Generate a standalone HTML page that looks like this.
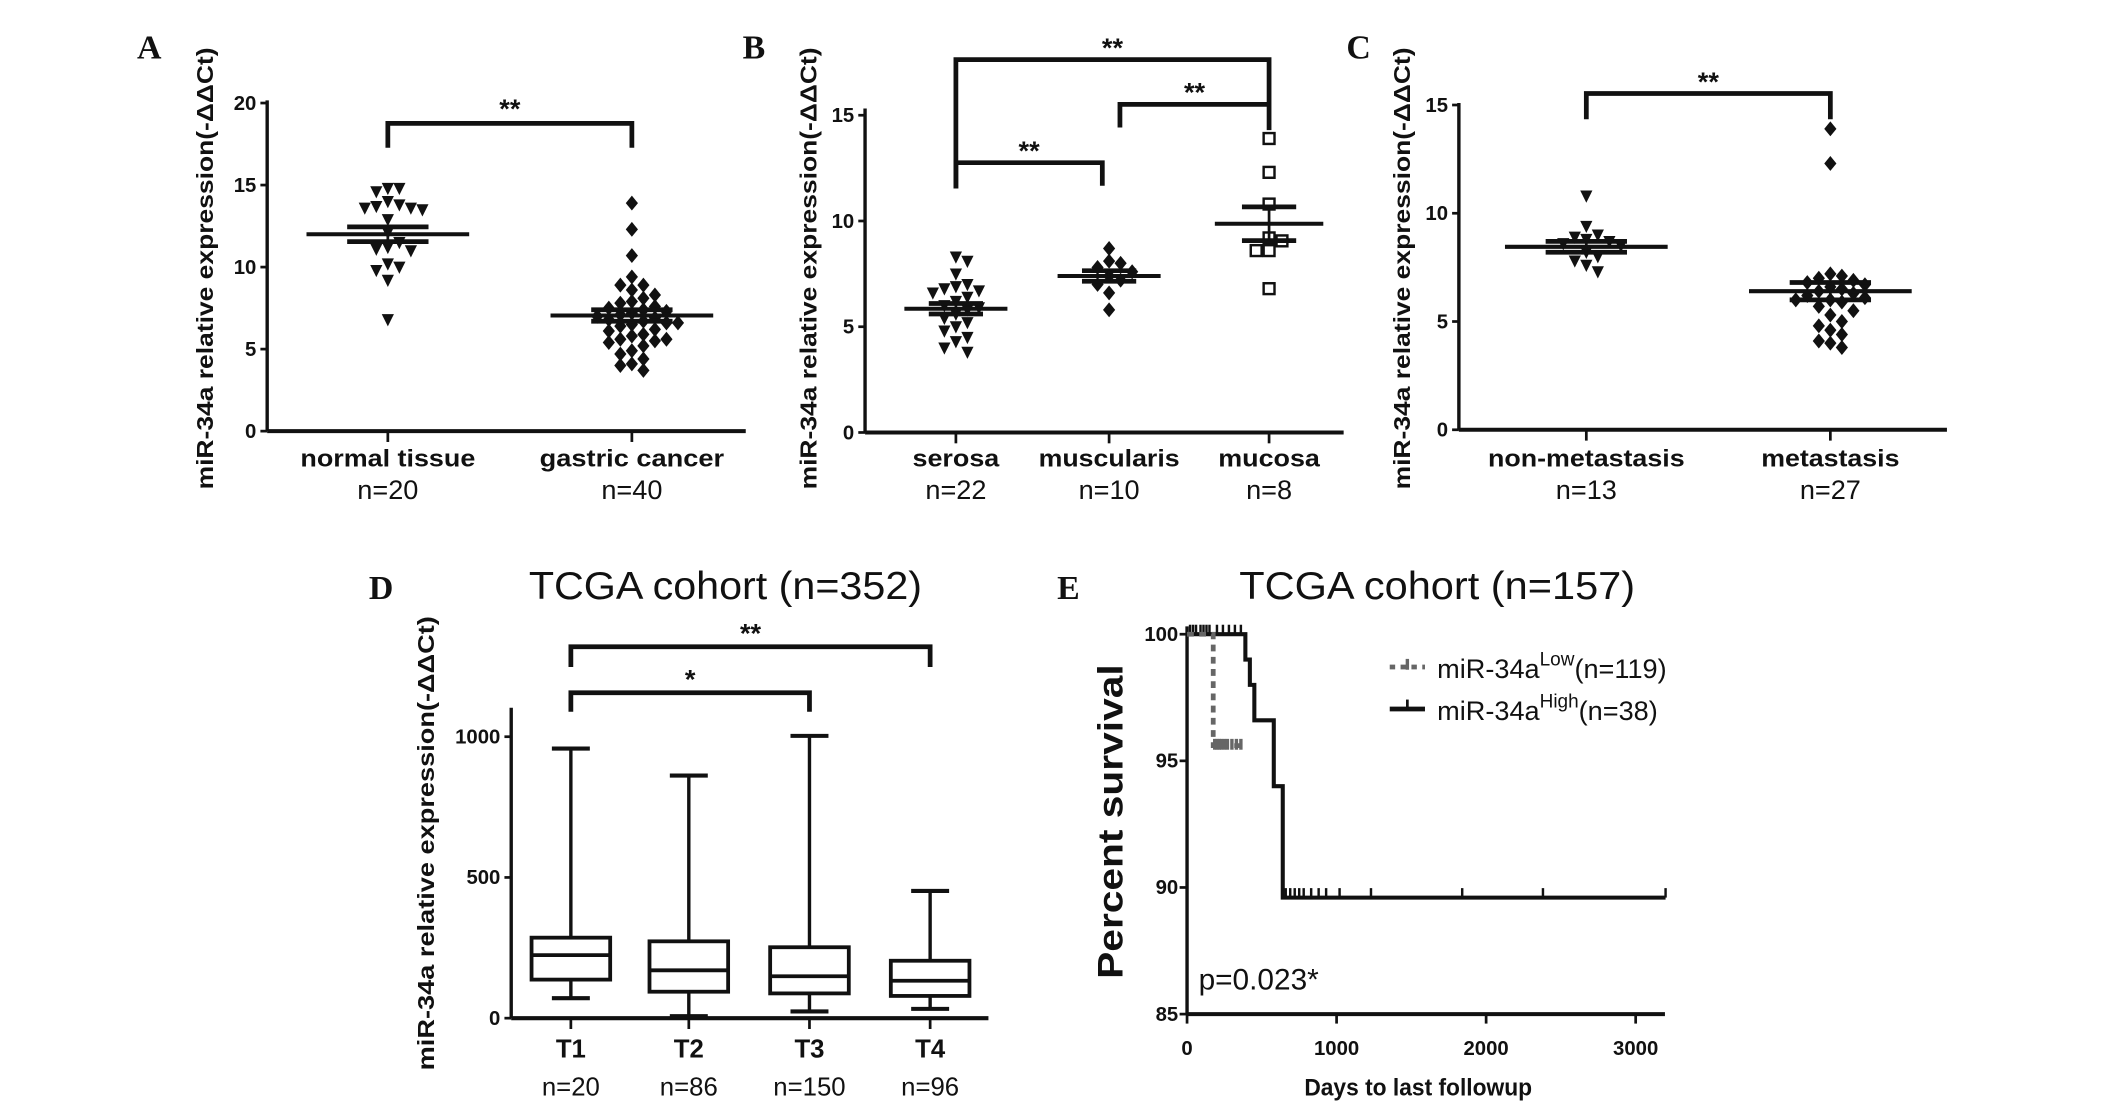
<!DOCTYPE html>
<html><head><meta charset="utf-8"><style>
html,body{margin:0;padding:0;background:#fff}
svg{display:block}
text{font-family:"Liberation Sans",sans-serif;fill:#111}
.b{font-weight:bold}
.let{font-family:"Liberation Serif",serif;font-weight:bold;font-size:25px}
</style></head><body>
<svg id="fig" xmlns="http://www.w3.org/2000/svg" width="2126" height="1109" viewBox="0 0 1568 818"></svg>
<script>
// ---- data ----
const aCats=["normal tissue","gastric cancer"];
const aN=["n=20","n=40"];
const aNormal=[14.8,14.8,14.6,13.7,13.6,13.5,13.6,13.8,14.0,12.9,12.1,11.5,11.2,11.0,11.1,10.2,10.0,9.8,9.2,6.8];
const aCancer=[13.9,12.3,10.7,9.4,8.9,8.9,8.6,8.3,8.1,7.9,7.8,7.6,7.5,7.4,7.3,7.2,7.1,7.0,6.9,6.8,6.7,6.6,6.6,6.5,6.4,6.2,6.1,5.9,5.8,5.6,5.6,5.5,5.4,5.2,4.9,4.7,4.4,4.1,4.0,3.7];
const aMean=[12.0,7.05], aSem=[0.45,0.35];
const aTicks=[0,5,10,15,20];
const bCats=["serosa","muscularis","mucosa"];
const bN=["n=22","n=10","n=8"];
const bSerosa=[8.3,8.1,7.5,7.0,6.9,6.8,6.7,6.6,6.4,6.2,6.0,5.9,5.8,5.6,5.4,5.2,5.0,4.8,4.5,4.3,4.0,3.8];
const bMusc=[8.7,8.1,8.0,7.8,7.6,7.4,7.2,7.0,6.6,5.8];
const bMucosa=[13.9,12.3,10.8,9.2,9.06,8.6,8.6,6.8];
const bMean=[5.85,7.4,9.87], bSem=[0.25,0.25,0.8];
const bTicks=[0,5,10,15];
const cCats=["non-metastasis","metastasis"];
const cN=["n=13","n=27"];
const cNon=[10.8,9.4,9.0,8.9,8.8,8.7,8.6,8.5,8.2,8.0,7.8,7.6,7.3];
const cMeta=[13.9,12.3,7.2,7.1,7.0,6.9,6.8,6.7,6.6,6.5,6.4,6.3,6.2,6.1,6.0,6.0,5.9,5.7,5.5,5.3,5.0,4.8,4.6,4.4,4.1,4.0,3.8];
const cMean=[8.45,6.4], cSem=[0.25,0.4];
const cTicks=[0,5,10,15];
const dCats=["T1","T2","T3","T4"];
const dN=["n=20","n=86","n=150","n=96"];
const dMin=[71,7,24,33], dQ1=[137,94,88,79], dMed=[224,170,149,133], dQ3=[286,273,252,204], dMax=[958,862,1003,452];
const dTicks=[0,500,1000];
const eLowDays=[0,175,175,370], eLowSurv=[100,100,95.6,95.6];
const eHighDays=[0,390,390,420,420,450,450,580,580,640,640,3200], eHighSurv=[100,100,99,99,98,98,96.6,96.6,94,94,89.6,89.6];
const eLowCens=[185,200,215,230,250,270,300,330,360];
const eHighCens=[20,40,60,90,110,130,150,200,240,280,320,360,660,690,720,750,780,830,880,930,1020,1230,1840,2380,3200];
const eXTicks=[0,1000,2000,3000], eYTicks=[85,90,95,100];

const svg=document.getElementById('fig');
const NS='http://www.w3.org/2000/svg';
function mk(tag,at,parent){const e=document.createElementNS(NS,tag);for(const k in at)e.setAttribute(k,at[k]);(parent||svg).appendChild(e);return e;}
function txt(s,x,y,size,cls,anchor,len,parent){const t=mk('text',{x:x,y:y,'font-size':size,'text-anchor':anchor||'middle'},parent);if(cls)t.setAttribute('class',cls);if(len){t.setAttribute('textLength',len);t.setAttribute('lengthAdjust','spacingAndGlyphs');}t.textContent=s;return t;}
function line(x1,y1,x2,y2,w,parent,extra){const l=mk('line',Object.assign({x1:x1,y1:y1,x2:x2,y2:y2,stroke:'#111','stroke-width':w||2.5},extra||{}),parent);return l;}

function axes(g,x0,x1,y0,yTop,ticks,ys,tickSize){
  line(x0,y0,x0,yTop,2.5,g);
  line(x0,y0,x1,y0,3,g);
  ticks.forEach(v=>{const y=ys(v);line(x0-5,y,x0,y,2,g);txt(String(v),x0-8,y+5,tickSize||15,'b','end',null,g);});
}
function bracket(g,xa,xb,y,la,lb,label,ly){
  const p=mk('path',{d:`M${xa},${la}V${y}H${xb}V${lb}`,fill:'none',stroke:'#111','stroke-width':3.5},g);
  
  const t=txt(label,(xa+xb)/2,ly,20,'b','middle',null,g);
  
}
function marker(g,type,x,y){
  let e;
  if(type==='tri') e=mk('path',{d:`M${x-4.5},${y-4}L${x+4.5},${y-4}L${x},${y+5}Z`,fill:'#111'},g);
  else if(type==='dia') e=mk('path',{d:`M${x},${y-5.5}L${x+4.5},${y}L${x},${y+5.5}L${x-4.5},${y}Z`,fill:'#111'},g);
  else e=mk('rect',{x:x-4,y:y-4,width:8,height:8,fill:'#fff',stroke:'#111','stroke-width':1.8},g);
  
}
function swarm(g,vals,cx,ys,type,dx){
  const placed=[];const sorted=vals.slice().sort((a,b)=>b-a);
  sorted.forEach(v=>{const y=ys(v);let k=0,x=cx;
    for(;;){const offs=k===0?[0]:[k*dx,-k*dx];let ok=null;
      for(const o of offs){if(placed.every(p=>Math.hypot(p[0]-(cx+o),p[1]-y)>=dx-0.5)){ok=o;break;}}
      if(ok!==null){x=cx+ok;break;}k++;}
    placed.push([x,y]);marker(g,type,x,y);});
}
function meanSem(g,cx,mean,sem,ys,mw,sw){
  line(cx-mw,ys(mean),cx+mw,ys(mean),3,g);
  line(cx-sw,ys(mean+sem),cx+sw,ys(mean+sem),3.5,g);
  line(cx-sw,ys(mean-sem),cx+sw,ys(mean-sem),3.5,g);
  line(cx,ys(mean-sem),cx,ys(mean+sem),2,g);
}
function ylabel(g,s,x,yc,size,len){const t=txt(s,0,0,size,'b','middle',len,g);t.setAttribute('transform',`translate(${x},${yc}) rotate(-90)`);}
function catLabels(g,cats,ns,xs,y1,y2,lens){cats.forEach((c,i)=>{const t=txt(c,xs[i],y1,18,'b','middle',lens?lens[i]:null,g);const n=txt(ns[i],xs[i],y2,20,null,'middle',null,g);});}
function grp(name){const g=mk('g',{});return g;}

// ---- Panel A ----
(function(){const g=grp('panel-a');
 const ys=v=>318-v*12.1; const xs=[286,466];
 txt('A',110,43,25,'let','middle',null,g);
 axes(g,197,550,318,74,aTicks,ys);
 xs.forEach(x=>line(x,318,x,326,2,g));
 ylabel(g,'miR-34a relative expression(-ΔΔCt)',157,198,17,326);
 swarm(g,aNormal,xs[0],ys,'tri',8.5); swarm(g,aCancer,xs[1],ys,'dia',8.5);
 meanSem(g,xs[0],aMean[0],aSem[0],ys,60,30); meanSem(g,xs[1],aMean[1],aSem[1],ys,60,30);
 bracket(g,xs[0],xs[1],91,109,109,'**',91-4);
 catLabels(g,aCats,aN,xs,344,368,[129,136]);
})();
// ---- Panel B ----
(function(){const g=grp('panel-b');
 const ys=v=>319-v*15.6; const xs=[705,818,936];
 txt('B',556,43,25,'let','middle',null,g);
 axes(g,638,991,319,80,bTicks,ys);
 xs.forEach(x=>line(x,319,x,327,2,g));
 ylabel(g,'miR-34a relative expression(-ΔΔCt)',602,198,17,326);
 swarm(g,bSerosa,xs[0],ys,'tri',8.5); swarm(g,bMusc,xs[1],ys,'dia',8.5); swarm(g,bMucosa,xs[2],ys,'sq',9.5);
 meanSem(g,xs[0],bMean[0],bSem[0],ys,38,20); meanSem(g,xs[1],bMean[1],bSem[1],ys,38,20); meanSem(g,xs[2],bMean[2],bSem[2],ys,40,20);
 bracket(g,xs[0],xs[2],44,139,96,'**',42);
 bracket(g,826,xs[2],77,94,77,'**',75);
 bracket(g,xs[0],813,120,139,137,'**',118);
 catLabels(g,bCats,bN,xs,344,368,[64,104,75]);
})();
// ---- Panel C ----
(function(){const g=grp('panel-c');
 const ys=v=>317-v*15.97; const xs=[1170,1350];
 txt('C',1002,43,25,'let','middle',null,g);
 axes(g,1076,1436,317,76,cTicks,ys);
 xs.forEach(x=>line(x,317,x,325,2,g));
 ylabel(g,'miR-34a relative expression(-ΔΔCt)',1040,198,17,326);
 swarm(g,cNon,xs[0],ys,'tri',8.5); swarm(g,cMeta,xs[1],ys,'dia',8.5);
 meanSem(g,xs[0],cMean[0],cMean&&cSem[0],ys,60,30); meanSem(g,xs[1],cMean[1],cSem[1],ys,60,30);
 bracket(g,xs[0],xs[1],69,88,88,'**',67);
 catLabels(g,cCats,cN,xs,344,368,[145,102]);
})();
// ---- Panel D ----
(function(){const g=grp('panel-d');
 const ys=v=>751-v*0.2076; const xs=[421,508,597,686]; const hw=29;
 txt('D',281,442,25,'let','middle',null,g);
 const t=txt('TCGA cohort (n=352)',535,442,29,null,'middle',290,g);
 axes(g,377,729,751,522,dTicks,ys);
 xs.forEach(x=>line(x,751,x,759,2,g));
 ylabel(g,'miR-34a relative expression(-ΔΔCt)',320,622,17,335);
 dCats.forEach((c,i)=>{const x=xs[i];
  const bx=mk('g',{},g);
  line(x,ys(dMax[i]),x,ys(dQ3[i]),2.5,bx);line(x,ys(dQ1[i]),x,ys(dMin[i]),2.5,bx);
  line(x-14,ys(dMax[i]),x+14,ys(dMax[i]),3,bx);line(x-14,ys(dMin[i]),x+14,ys(dMin[i]),3,bx);
  mk('rect',{x:x-hw,y:ys(dQ3[i]),width:2*hw,height:ys(dQ1[i])-ys(dQ3[i]),fill:'none',stroke:'#111','stroke-width':2.8},bx);
  line(x-hw,ys(dMed[i]),x+hw,ys(dMed[i]),2.8,bx);
 });
 bracket(g,xs[0],xs[3],477,492,492,'**',474);
 bracket(g,xs[0],xs[2],511,525,525,'*',508);
 dCats.forEach((c,i)=>{const a=txt(c,xs[i],780,19,'b','middle',null,g);const n=txt(dN[i],xs[i],808,19,null,'middle',null,g);});
})();
// ---- Panel E ----
(function(){const g=grp('panel-e');
 const xs=d=>875.5+d*0.1103; const ys=v=>748-(v-85)*18.68;
 txt('E',788,442,25,'let','middle',null,g);
 const t=txt('TCGA cohort (n=157)',1060,442,29,null,'middle',292,g);
 line(875.5,748,875.5,462,2.5,g);line(875.5,748,1228,748,3,g);
 eYTicks.forEach(v=>{line(870,ys(v),875.5,ys(v),2,g);txt(String(v),869,ys(v)+5,15,'b','end',null,g);});
 eXTicks.forEach(v=>{line(xs(v),748,xs(v),755,2,g);txt(String(v),xs(v),778,15,'b','middle',null,g);});
 ylabel(g,'Percent survival',828,606,26,232);
 const xl=txt('Days to last followup',1046,808,18,'b','middle',168,g);
 let d='';eHighDays.forEach((x,i)=>{d+=(i?'L':'M')+xs(x)+','+ys(eHighSurv[i]);});
 const hp=mk('path',{d:d,fill:'none',stroke:'#111','stroke-width':3},g);
 eHighCens.forEach(c=>{let s=eHighSurv[0];eHighDays.forEach((x,i)=>{if(x<=c)s=eHighSurv[i];});line(xs(c),ys(s),xs(c),ys(s)-7,1.8,g);});
 d='';eLowDays.forEach((x,i)=>{d+=(i?'L':'M')+xs(x)+','+ys(eLowSurv[i]);});
 const lp=mk('path',{d:d,fill:'none',stroke:'#666','stroke-width':3.5,'stroke-dasharray':'5,4'},g);
 eLowCens.forEach(c=>{let s=eLowSurv[0];eLowDays.forEach((x,i)=>{if(x<=c)s=eLowSurv[i];});line(xs(c),ys(s)+3,xs(c),ys(s)-5,2.5,g,{stroke:'#666'});});
 // legend
 const lg=mk('g',{},g);
 line(1025,492,1051,492,3.5,lg,{stroke:'#666','stroke-dasharray':'4,4'});line(1038,486,1038,494,2.5,lg,{stroke:'#666'});
 const t1=txt('',1060,500,20,null,'start',null,lg);t1.innerHTML='miR-34a<tspan dy="-9" font-size="14">Low</tspan><tspan dy="9">(n=119)</tspan>';
 line(1025,523,1051,523,3.5,lg);line(1038,516,1038,523,2,lg);
 const t2=txt('',1060,531,20,null,'start',null,lg);t2.innerHTML='miR-34a<tspan dy="-9" font-size="14">High</tspan><tspan dy="9">(n=38)</tspan>';
 const pv=txt('p=0.023*',884,730,22,null,'start',null,g);
})();
</script>
</body></html>
